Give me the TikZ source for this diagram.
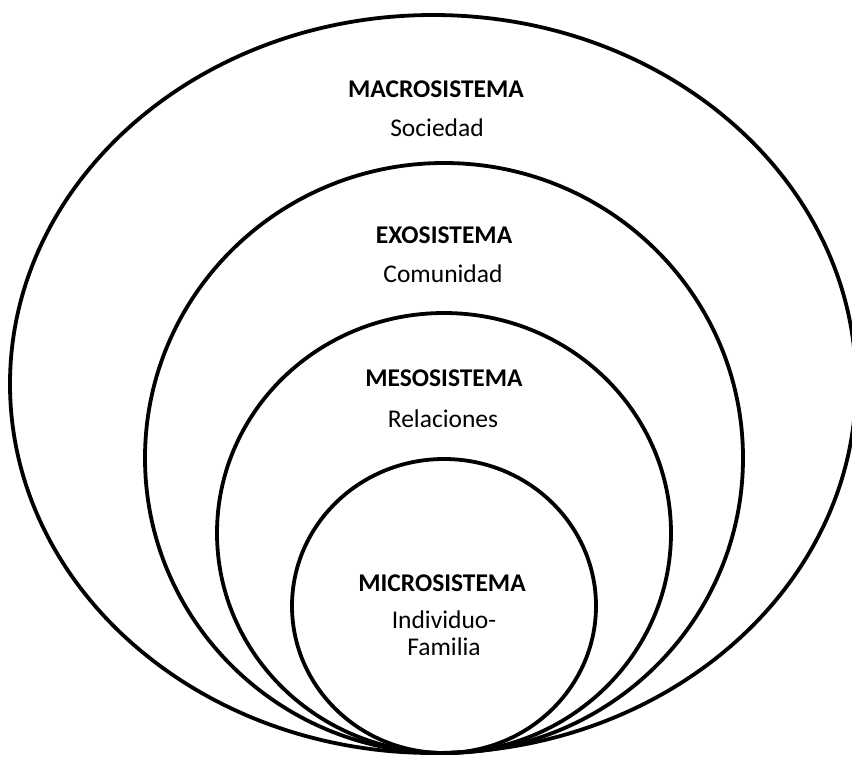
\documentclass[tikz,border=0pt]{standalone}
\usepackage{fontspec}
\setmainfont{Carlito}
\begin{document}
\begin{tikzpicture}[x=1pt,y=-1pt,
  ring/.style={draw=black,line width=3.8pt},
  title/.style={anchor=base,font=\bfseries\fontsize{25.5}{30}\selectfont,inner sep=0pt},
  sub/.style={anchor=base,font=\fontsize{25.5}{30}\selectfont,inner sep=0pt}]
\useasboundingbox (0,0) rectangle (852,758);
\draw[ring] (433,384) ellipse [x radius=423, y radius=369];
\draw[ring] (444,458) ellipse [x radius=299, y radius=295];
\draw[ring] (444,533) ellipse [x radius=227, y radius=220];
\draw[ring] (444,606) ellipse [x radius=152, y radius=147];
\node[title] (macro) at (436,97) {MACROSISTEMA};
\node[sub] (soc) at (437,136) {Sociedad};
\node[title] (exo) at (444,243) {EXOSISTEMA};
\node[sub] (com) at (443,282) {Comunidad};
\node[title] (meso) at (444,386) {MESOSISTEMA};
\node[sub] (rel) at (443,427) {Relaciones};
\node[title] (micro) at (442,591) {MICROSISTEMA};
\node[sub] (ind) at (444,628) {Individuo-};
\node[sub] (fam) at (444,655) {Familia};
\end{tikzpicture}
\end{document}
